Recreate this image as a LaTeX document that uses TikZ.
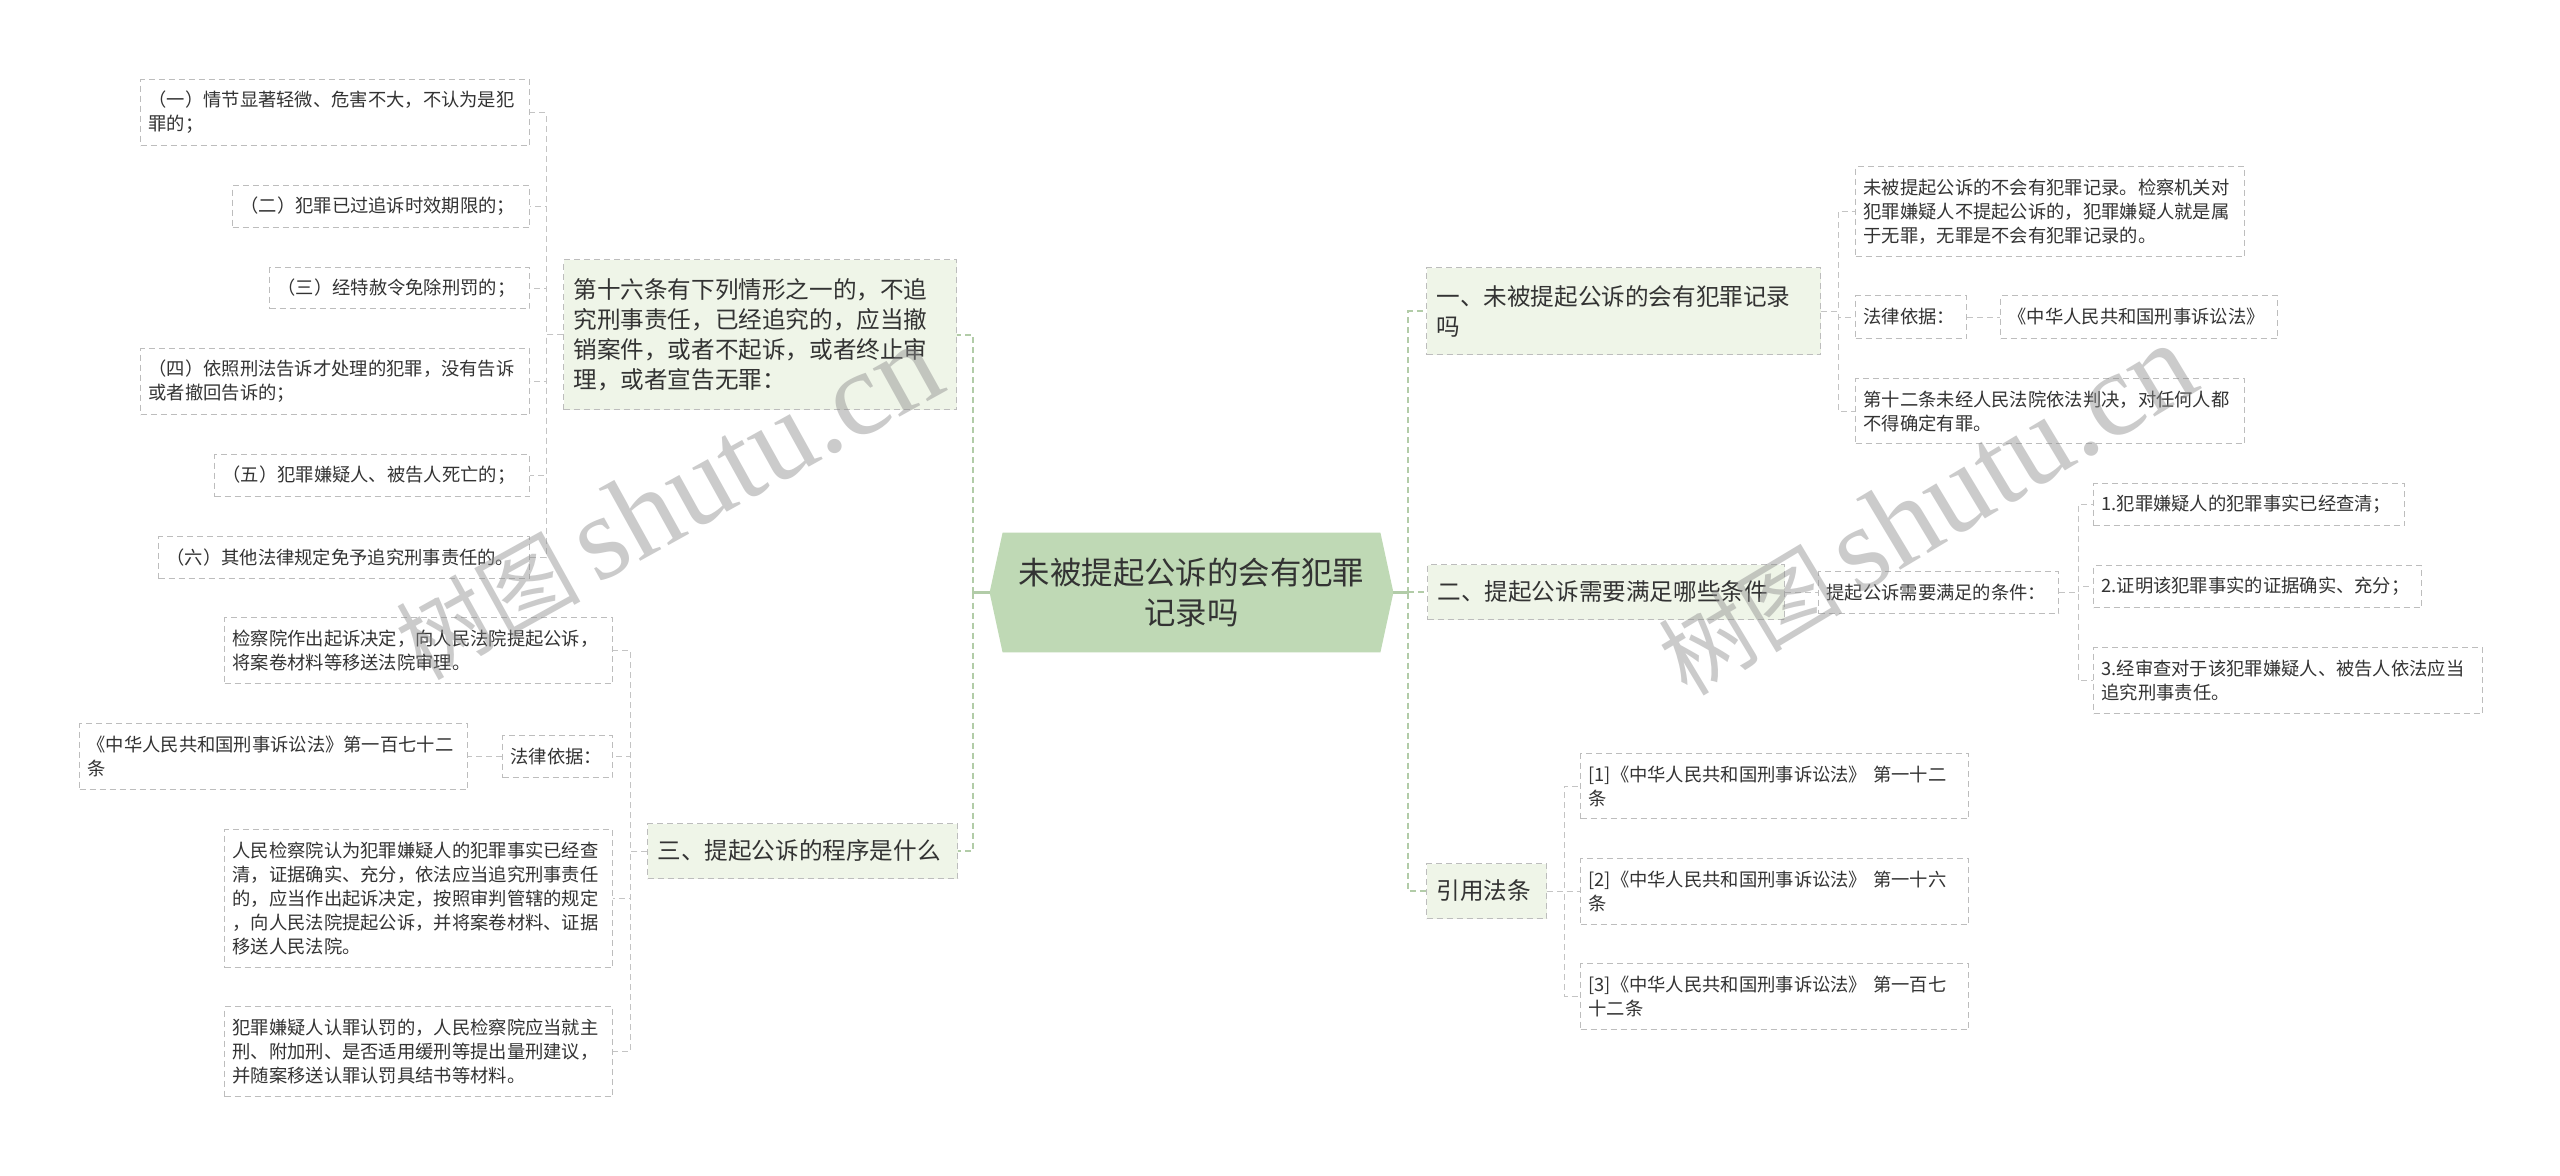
\documentclass[tikz,border=0pt]{standalone}
\usepackage{fontspec}
\setmainfont{Noto Sans CJK SC}
\newfontfamily\wmfont{Liberation Serif}
\usetikzlibrary{backgrounds}
\definecolor{ink}      {HTML}{333333}
\definecolor{leafline} {HTML}{BDBDBD}
\definecolor{topicfill}{HTML}{EFF5E8}
\definecolor{rootfill} {HTML}{BFD9B5}
\definecolor{stemgreen}{HTML}{B2CCA8}
\definecolor{wire}     {HTML}{C4C4C4}
\newcommand\leaffont{\fontsize{9.15pt}{12pt}\selectfont}
\newcommand\topicfont{\fontsize{11.8pt}{15pt}\selectfont}
\newcommand\rootfont{\fontsize{15.7pt}{20pt}\selectfont}

\begin{document}
\begin{tikzpicture}[x=0.5pt,y=-0.5pt,
    leaf/.style={draw=leafline, line width=0.5pt, dash pattern=on 3pt off 2pt,
      fill=white, text=ink, font=\leaffont, align=left, anchor=north west,
      inner xsep=4pt, inner ysep=0pt},
    topic/.style={leaf, fill=topicfill, font=\topicfont, inner xsep=5pt},
    link/.style={draw=wire, line width=0.5pt, dash pattern=on 3pt off 2pt},
    trunk/.style={draw=stemgreen, line width=1pt, dash pattern=on 3pt off 2pt},
    stem/.style={draw=stemgreen, line width=1.5pt},
    wm/.style={text=black!45, opacity=0.45, inner sep=0pt}]
  \useasboundingbox (0,0) rectangle (2560,1175);

  % centre
  \node[text=ink, font=\rootfont, align=center, text width=185pt,
    minimum width=201.5pt, minimum height=59.5pt, inner sep=0pt]
    (root) at (1191.5,592.5) {未被提起公诉的会有犯罪\\记录吗};
  \begin{scope}[on background layer]
    \fill[white] (0,0) rectangle (2560,1175);
    \fill[rootfill] (root.west) -- ([xshift=6.5pt]root.north west)
      -- ([xshift=-6.5pt]root.north east) -- (root.east)
      -- ([xshift=-6.5pt]root.south east) -- ([xshift=6.5pt]root.south west) -- cycle;
  \end{scope}

  % left branches
  \node[topic, text width=186.5pt, minimum height=75pt] (t16) at (563,259)
    {第十六条有下列情形之一的，不追\\究刑事责任，已经追究的，应当撤\\销案件，或者不起诉，或者终止审\\理，或者宣告无罪：};
  \node[topic, text width=145pt, minimum height=27.5pt] (t3) at (647,823)
    {三、提起公诉的程序是什么};

  \node[leaf, text width=186.5pt, minimum height=33pt] (l1) at (140,79)
    {（一）情节显著轻微、危害不大，不认为是犯\\罪的；};
  \node[leaf, text width=140.5pt, minimum height=21pt] (l2) at (232,185)
    {（二）犯罪已过追诉时效期限的；};
  \node[leaf, text width=122pt, minimum height=20.5pt] (l3) at (269,267)
    {（三）经特赦令免除刑罚的；};
  \node[leaf, text width=186.5pt, minimum height=33pt] (l4) at (140,348)
    {（四）依照刑法告诉才处理的犯罪，没有告诉\\或者撤回告诉的；};
  \node[leaf, text width=149.5pt, minimum height=21pt] (l5) at (214,454)
    {（五）犯罪嫌疑人、被告人死亡的；};
  \node[leaf, text width=177.5pt, minimum height=21pt] (l6) at (158,536)
    {（六）其他法律规定免予追究刑事责任的。};

  \node[leaf, text width=186pt, minimum height=33pt] (m1) at (224,617)
    {检察院作出起诉决定，向人民法院提起公诉，\\将案卷材料等移送法院审理。};
  \node[leaf, text width=47pt, minimum height=21pt] (m2) at (502,735)
    {法律依据：};
  \node[leaf, text width=186pt, minimum height=33pt] (m2a) at (79,723)
    {《中华人民共和国刑事诉讼法》第一百七十二\\条};
  \node[leaf, text width=186pt, minimum height=69pt] (m3) at (224,829)
    {人民检察院认为犯罪嫌疑人的犯罪事实已经查\\清，证据确实、充分，依法应当追究刑事责任\\的，应当作出起诉决定，按照审判管辖的规定\\，向人民法院提起公诉，并将案卷材料、证据\\移送人民法院。};
  \node[leaf, text width=186pt, minimum height=45pt] (m4) at (224,1006)
    {犯罪嫌疑人认罪认罚的，人民检察院应当就主\\刑、附加刑、是否适用缓刑等提出量刑建议，\\并随案移送认罪认罚具结书等材料。};

  % right branches
  \node[topic, text width=187pt, minimum height=43.5pt] (t1) at (1426,267)
    {一、未被提起公诉的会有犯罪记录\\吗};
  \node[topic, text width=168.5pt, minimum height=27.5pt] (t2) at (1427,564)
    {二、提起公诉需要满足哪些条件};
  \node[topic, text width=50pt, minimum height=27.5pt] (tref) at (1426,863)
    {引用法条};

  \node[leaf, text width=186.5pt, minimum height=45pt] (r1a) at (1855,166)
    {未被提起公诉的不会有犯罪记录。检察机关对\\犯罪嫌疑人不提起公诉的，犯罪嫌疑人就是属\\于无罪，无罪是不会有犯罪记录的。};
  \node[leaf, text width=47.5pt, minimum height=21.5pt] (r1b) at (1855,295)
    {法律依据：};
  \node[leaf, text width=130.5pt, minimum height=21.5pt] (r1b1) at (2000,295)
    {《中华人民共和国刑事诉讼法》};
  \node[leaf, text width=186.5pt, minimum height=32.5pt] (r1c) at (1855,378)
    {第十二条未经人民法院依法判决，对任何人都\\不得确定有罪。};

  \node[leaf, text width=112pt, minimum height=21pt] (r2a) at (1818,571)
    {提起公诉需要满足的条件：};
  \node[leaf, text width=147.5pt, minimum height=21pt] (r2x) at (2093,483)
    {1.犯罪嫌疑人的犯罪事实已经查清；};
  \node[leaf, text width=156pt, minimum height=21pt] (r2y) at (2093,565)
    {2.证明该犯罪事实的证据确实、充分；};
  \node[leaf, text width=186.5pt, minimum height=33pt] (r2z) at (2093,647)
    {3.经审查对于该犯罪嫌疑人、被告人依法应当\\追究刑事责任。};

  \node[leaf, text width=186pt, minimum height=32.5pt] (ref1) at (1580,753)
    {[1]《中华人民共和国刑事诉讼法》 第一十二\\条};
  \node[leaf, text width=186pt, minimum height=33pt] (ref2) at (1580,858)
    {[2]《中华人民共和国刑事诉讼法》 第一十六\\条};
  \node[leaf, text width=186pt, minimum height=33pt] (ref3) at (1580,963)
    {[3]《中华人民共和国刑事诉讼法》 第一百七\\十二条};

  % connectors
  \draw[stem] (root.west) -- ++(-17,0) coordinate (lt);
  \draw[stem] (root.east) -- ++(15,0) coordinate (rt);
  \foreach \n in {t16,t3}{\draw[trunk] (lt) |- (\n.east);}
  \foreach \n in {t1,t2,tref}{\draw[trunk] (rt) |- (\n.west);}
  \foreach \n in {l1,l2,l3,l4,l5,l6}{\draw[link] (t16.west) -- ++(-17,0) |- (\n.east);}
  \foreach \n in {m1,m2,m3,m4}{\draw[link] (t3.west) -- ++(-17,0) |- (\n.east);}
  \draw[link] (m2.west) -- (m2a.east);
  \foreach \n in {r1a,r1b,r1c}{\draw[link] (t1.east) -- ++(17,0) |- (\n.west);}
  \draw[link] (r1b.east) -- (r1b1.west);
  \draw[link] (t2.east) -- (t2.east -| r2a.west);
  \foreach \n in {r2x,r2y,r2z}{\draw[link] (r2a.east) -- ++(19,0) |- (\n.west);}
  \foreach \n in {ref1,ref2,ref3}{\draw[link] (tref.east) -- ++(17,0) |- (\n.west);}

  % watermarks
  \node[wm, rotate=29] (wm1) at (668,502)
    {\fontsize{46pt}{46pt}\selectfont 树图\,{\wmfont\fontsize{60pt}{60pt}\selectfont shutu.cn}};
  \node[wm, rotate=31] (wm2) at (1926,510)
    {\fontsize{46pt}{46pt}\selectfont 树图\,{\wmfont\fontsize{60pt}{60pt}\selectfont shutu.cn}};
\end{tikzpicture}
\end{document}
